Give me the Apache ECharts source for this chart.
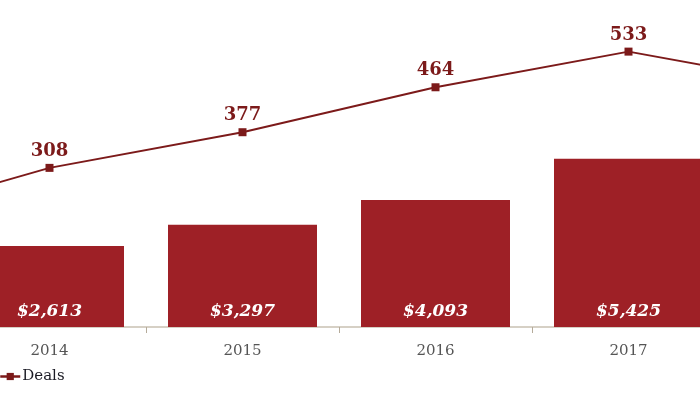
<!DOCTYPE html>
<html>
<head>
<meta charset="utf-8">
<script src="https://cdn.jsdelivr.net/npm/echarts@6/dist/echarts.min.js"></script>
<style>html,body{margin:0;padding:0;background:#fff;overflow:hidden;width:700px;height:393px;position:relative}#c{position:absolute;left:-240px;top:0;width:1158px;height:393px}</style>
</head>
<body>
<div id="c"></div>
<script>
const years = ['2013', '2014', '2015', '2016', '2017', '2018'];
const dealValues = [null, 2613, 3297, 4093, 5425, null];
const dealCounts = [201, 308, 377, 464, 533, 465];

const chart = echarts.init(document.getElementById('c'));
const serif = '"DejaVu Serif", Georgia, serif';
chart.setOption({
  animation: false,
  grid: { left: 0, right: 0, top: 17, bottom: 66, containLabel: false },
  legend: {
    data: ['Deals'], left: 239, top: 369, padding: 0, itemWidth: 20, itemHeight: 9, itemGap: 3,
    lineStyle: { width: 2.5 },
    textStyle: { fontFamily: serif, fontSize: 15, color: '#1a1a24', padding: [0, 0, 0, -3] }
  },
  xAxis: {
    type: 'category', data: years, boundaryGap: true,
    axisLine: { lineStyle: { color: '#c9c0b2', width: 1.5 } },
    axisTick: { show: true, length: 6, lineStyle: { color: '#b5ab9a' } },
    axisLabel: { fontFamily: serif, fontSize: 15, color: '#555', margin: 16.5 }
  },
  yAxis: [
    { type: 'value', min: 0, max: 10000, show: false, splitLine: { show: false } },
    { type: 'value', min: 0, max: 600, show: false, splitLine: { show: false } }
  ],
  series: [
    {
      name: 'Value', type: 'bar', data: dealValues, barWidth: 149, yAxisIndex: 0,
      itemStyle: { color: '#9e2026' },
      label: {
        show: true, position: 'insideBottom', distance: 7,
        formatter: p => '$' + p.value.toLocaleString('en-US'),
        fontFamily: serif, fontStyle: 'italic', fontWeight: 'bold', fontSize: 17, color: '#fff'
      }
    },
    {
      name: 'Deals', type: 'line', data: dealCounts, yAxisIndex: 1,
      symbol: 'rect', symbolSize: 8,
      lineStyle: { color: '#7c1a1a', width: 2 },
      itemStyle: { color: '#7c1a1a' },
      label: {
        show: true, position: 'top', distance: 3.5,
        fontFamily: serif, fontWeight: 'bold', fontSize: 18, color: '#7c1a1a'
      }
    }
  ]
});
</script>
</body>
</html>
